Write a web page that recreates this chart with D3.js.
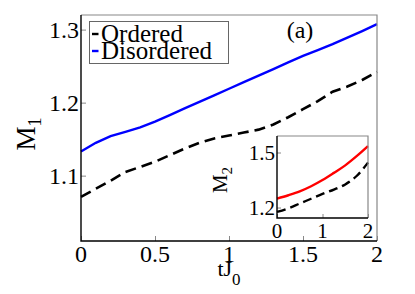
<!DOCTYPE html>
<html>
<head>
<script src="https://cdnjs.cloudflare.com/ajax/libs/d3/7.8.5/d3.min.js"></script>
<style>
  body { margin: 0; background: #fff; }
</style>
</head>
<body>
<svg id="chart" width="415" height="294"></svg>
<script>
// main panel: M1 vs tJ0
const tMain = [0, 0.1, 0.2, 0.3, 0.4, 0.5, 0.6, 0.7, 0.8, 0.9, 1.0, 1.1, 1.2, 1.3, 1.4, 1.5, 1.6, 1.7, 1.8, 1.9, 2.0];
const orderedM1 = [1.071, 1.082, 1.093, 1.105, 1.112, 1.119, 1.128, 1.137, 1.145, 1.151, 1.155, 1.159, 1.163, 1.170, 1.180, 1.191, 1.202, 1.215, 1.222, 1.231, 1.242];
const disorderedM1 = [1.133, 1.145, 1.154, 1.160, 1.166, 1.174, 1.183, 1.192, 1.201, 1.210, 1.219, 1.228, 1.237, 1.246, 1.255, 1.264, 1.272, 1.280, 1.289, 1.298, 1.3075];
const mainXTicks = [0, 0.5, 1, 1.5, 2];
const mainYTicks = [1.1, 1.2, 1.3];

// inset: M2 vs tJ0
const tInset = [0, 0.25, 0.5, 0.75, 1.0, 1.25, 1.5, 1.75, 2.0];
const orderedM2 = [1.176, 1.196, 1.222, 1.248, 1.274, 1.298, 1.326, 1.372, 1.445];
const disorderedM2 = [1.249, 1.267, 1.288, 1.316, 1.350, 1.389, 1.430, 1.480, 1.535];
const insetXTicks = [0, 1, 2];
const insetYTicks = [1.2, 1.5];

const legendLabels = ["Ordered", "Disordered"];

const FONT = '"Liberation Serif"';
const svg = d3.select("#chart");

function label(sel) {
  return sel.append("text").style("font-family", FONT).attr("fill", "#000");
}

function panel(box, xDomain, yDomain) {
  const x = d3.scaleLinear().domain(xDomain).range([box.left, box.right]);
  const y = d3.scaleLinear().domain(yDomain).range([box.bottom, box.top]);
  return { x, y };
}

function frame(box) {
  // gray top/right, black left/bottom
  svg.append("path")
    .attr("d", `M${box.left},${box.top}H${box.right}V${box.bottom}`)
    .attr("fill", "none").attr("stroke", "#888").attr("stroke-width", 1.2);
  svg.append("path")
    .attr("d", `M${box.left},${box.top}V${box.bottom}H${box.right}`)
    .attr("fill", "none").attr("stroke", "#000").attr("stroke-width", 1.4);
}

function ticks(sc, box, xt, yt, len, fs, xOff, yOff) {
  const gx = svg.append("g")
    .attr("transform", `translate(0,${box.bottom})`)
    .call(d3.axisTop(sc.x).tickValues(xt).tickSize(len).tickFormat(""));
  gx.select(".domain").remove();
  gx.selectAll("line").attr("stroke", "#888");
  const gy = svg.append("g")
    .attr("transform", `translate(${box.left},0)`)
    .call(d3.axisRight(sc.y).tickValues(yt).tickSize(len).tickFormat(""));
  gy.select(".domain").remove();
  gy.selectAll("line").attr("stroke", "#888");

  xt.forEach(d => label(svg).attr("x", sc.x(d)).attr("y", box.bottom + xOff)
    .attr("text-anchor", "middle").attr("font-size", fs).text(String(d)));
  yt.forEach(d => label(svg).attr("x", box.left - 2).attr("y", sc.y(d) + yOff)
    .attr("text-anchor", "end").attr("font-size", fs).text(d.toFixed(1)));
}

// main
const mainBox = { left: 81, right: 377, top: 15, bottom: 241 };
const ms = panel(mainBox, [0, 2], [1.0105, 1.32]);
ticks(ms, mainBox, mainXTicks, mainYTicks, 5, 24, 21, 8);

const lineMain = ys => d3.line().x((d, i) => ms.x(tMain[i])).y(d => ms.y(d))(ys);
svg.append("path").attr("d", lineMain(disorderedM1))
  .attr("fill", "none").attr("stroke", "#0000ff").attr("stroke-width", 2.4);
svg.append("path").attr("d", lineMain(orderedM1))
  .attr("fill", "none").attr("stroke", "#000").attr("stroke-width", 2.6)
  .attr("stroke-dasharray", "11,6");
frame(mainBox);

// legend
const lg = svg.append("g");
lg.append("rect").attr("x", 89.5).attr("y", 21.5).attr("width", 139).attr("height", 42)
  .attr("fill", "#fff").attr("stroke", "#666").attr("stroke-width", 1);
legendLabels.forEach((lab, i) => {
  const yy = 34 + i * 17;
  lg.append("line").attr("x1", 92).attr("x2", 98.5).attr("y1", yy).attr("y2", yy)
    .attr("stroke", i ? "#0000ff" : "#000").attr("stroke-width", 2.4);
  label(lg).attr("x", 101).attr("y", yy + 7.5)
    .attr("font-size", 25).text(lab);
});

label(svg).attr("x", 300).attr("y", 38).attr("text-anchor", "middle")
  .attr("font-size", 24).text("(a)");

// axis titles
const yt = label(svg).attr("transform", "translate(35,134) rotate(-90)")
  .attr("text-anchor", "middle").attr("font-size", 27);
yt.append("tspan").text("M");
yt.append("tspan").attr("font-size", 18).attr("dy", 6).text("1");

const xt = label(svg).attr("x", 229).attr("y", 276)
  .attr("text-anchor", "middle").attr("font-size", 22);
xt.append("tspan").text("tJ");
xt.append("tspan").attr("font-size", 17).attr("dy", 9).text("0");

// inset
const inBox = { left: 277, right: 368, top: 136, bottom: 218 };
svg.append("rect").attr("x", inBox.left).attr("y", inBox.top)
  .attr("width", inBox.right - inBox.left).attr("height", inBox.bottom - inBox.top)
  .attr("fill", "#fff");
const is = panel(inBox, [0, 2], [1.143, 1.59]);
ticks(is, inBox, insetXTicks, insetYTicks, 4, 21, 20, 7);

const lineIn = ys => d3.line().x((d, i) => is.x(tInset[i])).y(d => is.y(d)).curve(d3.curveMonotoneX)(ys);
svg.append("path").attr("d", lineIn(disorderedM2))
  .attr("fill", "none").attr("stroke", "#ff0000").attr("stroke-width", 2.4);
svg.append("path").attr("d", lineIn(orderedM2))
  .attr("fill", "none").attr("stroke", "#000").attr("stroke-width", 2.4)
  .attr("stroke-dasharray", "9,5");
frame(inBox);

const it = label(svg).attr("transform", "translate(227,180) rotate(-90)")
  .attr("text-anchor", "middle").attr("font-size", 21);
it.append("tspan").text("M");
it.append("tspan").attr("font-size", 15).attr("dy", 5).text("2");
</script>
</body>
</html>
